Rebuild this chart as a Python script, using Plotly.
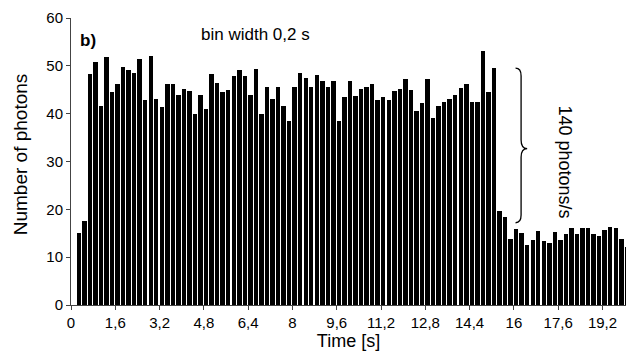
import numpy as np
import plotly.graph_objects as go

# photon counts per 0.2 s bin (bins start at 0.2 s)
bin_width = 0.2
counts = [
    15.0, 17.6, 48.2, 50.7, 41.7, 51.9, 44.5, 46.1, 49.8, 49.2,
    48.4, 51.4, 42.8, 52.1, 43.1, 41.3, 46.3, 46.1, 43.8, 45.1,
    44.8, 39.9, 43.8, 41.0, 48.2, 46.5, 44.5, 45.0, 47.8, 49.1,
    47.8, 43.8, 49.3, 39.9, 45.6, 43.1, 45.5, 41.7, 38.4, 45.6,
    48.6, 47.5, 45.5, 48.0, 46.8, 45.6, 46.8, 38.4, 43.4, 46.8,
    43.7, 45.1, 45.6, 46.1, 42.8, 43.5, 42.8, 44.8, 45.1, 47.2,
    44.9, 40.5, 42.2, 47.2, 39.0, 41.7, 42.4, 43.1, 43.8, 45.4,
    46.3, 42.4, 42.4, 53.1, 44.5, 49.5, 19.6, 18.5, 13.9, 15.9,
    15.1, 12.5, 13.5, 15.5, 13.3, 13.0, 15.3, 13.6, 14.8, 16.2,
    14.8, 16.0, 16.0, 14.8, 14.5, 15.7, 16.4, 16.2, 13.9, 12.1,
]
bin_starts = [round(bin_width * (i + 1), 1) for i in range(len(counts))]

x_tickvals = [0, 1.6, 3.2, 4.8, 6.4, 8, 9.6, 11.2, 12.8, 14.4, 16, 17.6, 19.2]
x_ticktext = ["0", "1,6", "3,2", "4,8", "6,4", "8", "9,6", "11,2", "12,8", "14,4", "16", "17,6", "19,2"]
y_tickvals = [0, 10, 20, 30, 40, 50, 60]

FONT = "Arial, Liberation Sans, sans-serif"
AX = "#444444"

fig = go.Figure()
fig.add_trace(go.Bar(
    x=bin_starts, y=counts, width=0.16, offset=0.0,
    marker=dict(color="black", line=dict(width=0)),
    showlegend=False,
))

# curly brace marking the step (drawn as a path in data coordinates)
bx0, bx1, bx2 = 16.06, 16.26, 16.48
ytop, ymid, ybot = 49.5, 32.7, 17.2
brace = (
    f"M {bx0},{ytop} Q {bx1},{ytop} {bx1},{ytop-1.6} "
    f"L {bx1},{ymid+1.8} Q {bx1},{ymid} {bx2},{ymid} "
    f"Q {bx1},{ymid} {bx1},{ymid-1.8} "
    f"L {bx1},{ybot+1.6} Q {bx1},{ybot} {bx0},{ybot}"
)
fig.add_shape(type="path", path=brace, xref="x", yref="y",
              line=dict(color="black", width=1.3))

fig.add_annotation(x=0.62, y=55.3, text="<b>b)</b>", showarrow=False,
                   font=dict(family=FONT, size=17, color="black"))
fig.add_annotation(x=6.68, y=56.6, text="bin width 0,2 s", showarrow=False,
                   font=dict(family=FONT, size=17, color="black"))
fig.add_annotation(x=17.85, y=30.0, text="140 photons/s", showarrow=False,
                   textangle=90, font=dict(family=FONT, size=18, color="black"))
# y-axis title
fig.add_annotation(xref="paper", yref="paper", x=-0.092, y=0.525,
                   xanchor="center", yanchor="middle",
                   text="Number of photons", showarrow=False, textangle=-90,
                   font=dict(family=FONT, size=19, color="black"))

fig.update_layout(
    width=626, height=352,
    margin=dict(l=71, r=0, t=18, b=47),
    paper_bgcolor="white", plot_bgcolor="white",
    font=dict(family=FONT, color="black"),
    bargap=0,
)
fig.update_xaxes(
    range=[0, 20.05], tickmode="array", tickvals=x_tickvals, ticktext=x_ticktext,
    showgrid=False, zeroline=False, showline=True, linecolor=AX, linewidth=1,
    ticks="outside", ticklen=4, tickcolor=AX,
    tickfont=dict(family=FONT, size=15, color="black"),
    title=dict(text="Time [s]", font=dict(family=FONT, size=18, color="black"), standoff=2),
)
fig.update_yaxes(
    range=[0, 60], tickmode="array", tickvals=y_tickvals,
    showgrid=False, zeroline=False, showline=True, linecolor=AX, linewidth=1,
    ticks="outside", ticklen=4, tickcolor=AX,
    tickfont=dict(family=FONT, size=15, color="black"),
)

fig.write_html("out.html")
